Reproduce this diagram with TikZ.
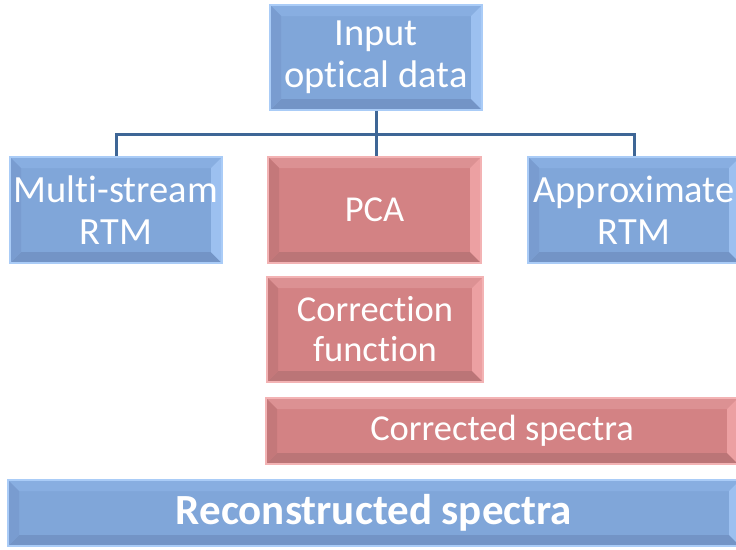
\documentclass[tikz,border=0pt]{standalone}
\usepackage{fontspec}
\setmainfont{Carlito}[Ligatures={NoCommon}]
\begin{document}
\begin{tikzpicture}[x=1pt,y=-1pt,
  % face colours of the bevelled boxes
  bev/.style={path picture={
    \def\pb{path picture bounding box}
    \fill[#1top] (\pb.north west) -- (\pb.north east)
      -- ([xshift=-11pt,yshift=-11pt]\pb.north east) -- ([xshift=11pt,yshift=-11pt]\pb.north west) -- cycle;
    \fill[#1bottom] (\pb.south west) -- (\pb.south east)
      -- ([xshift=-11pt,yshift=11pt]\pb.south east) -- ([xshift=11pt,yshift=11pt]\pb.south west) -- cycle;
    \fill[#1left] (\pb.north west) -- ([xshift=11pt,yshift=-11pt]\pb.north west)
      -- ([xshift=11pt,yshift=11pt]\pb.south west) -- (\pb.south west) -- cycle;
    \fill[#1right] (\pb.north east) -- ([xshift=-11pt,yshift=-11pt]\pb.north east)
      -- ([xshift=-11pt,yshift=11pt]\pb.south east) -- (\pb.south east) -- cycle;
  }},
  boxbase/.style={rectangle, inner sep=0pt, text=white, align=center, line width=1.6pt},
  bluebox/.style={boxbase, fill=bluebase, draw=blueborder, bev=blue,
    font=\fontsize{38.5}{42}\selectfont},
  pinkbox/.style={boxbase, fill=pinkbase, draw=pinkborder, bev=pink,
    font=\fontsize{36.5}{40}\selectfont},
  link/.style={draw=linkblue, line width=3pt}
]
\definecolor{bluebase}{HTML}{80A6D9}
\definecolor{bluetop}{HTML}{88AEE1}
\definecolor{blueright}{HTML}{9CC0F0}
\definecolor{bluebottom}{HTML}{7394C6}
\definecolor{blueleft}{HTML}{799CD0}
\definecolor{blueborder}{HTML}{AACCF7}
\definecolor{pinkbase}{HTML}{D38284}
\definecolor{pinktop}{HTML}{DC9193}
\definecolor{pinkright}{HTML}{ECA0A2}
\definecolor{pinkbottom}{HTML}{BB7577}
\definecolor{pinkleft}{HTML}{C4787A}
\definecolor{pinkborder}{HTML}{F3B3B4}
\definecolor{linkblue}{HTML}{3E6696}

\useasboundingbox (0,0) rectangle (736,549);
\clip (0,0) rectangle (736,549);

% top row
\node[bluebox, minimum width=212pt, minimum height=105pt] (input) at (376,57.5) {Input\\optical data};
\node[bluebox, minimum width=212pt, minimum height=106pt] (multi) at (116,210) {Multi-stream\\RTM};
\node[pinkbox, minimum width=213pt, minimum height=106pt] (pca) at (374.5,210) {PCA};
\node[bluebox, minimum width=212pt, minimum height=106pt] (approx) at (634,210) {Approximate\\RTM};

% lower steps
\node[pinkbox, minimum width=216pt, minimum height=105pt] (corrfn) at (375,329.5) {Correction\\function};
\node[pinkbox, minimum width=472pt, minimum height=66pt] (corrsp) at (502,431) {Corrected spectra};
\node[bluebox, minimum width=732pt, minimum height=66pt, font=\fontsize{43}{46}\selectfont\bfseries]
  (recon) at (374,513) {Reconstructed spectra};

% connectors
\coordinate (bus) at (0,134);
\draw[link] (input.south) -- (input.south |- pca.north);
\draw[link] (multi.north) -- (multi.north |- bus) -- (approx.north |- bus) -- (approx.north);
\end{tikzpicture}
\end{document}
